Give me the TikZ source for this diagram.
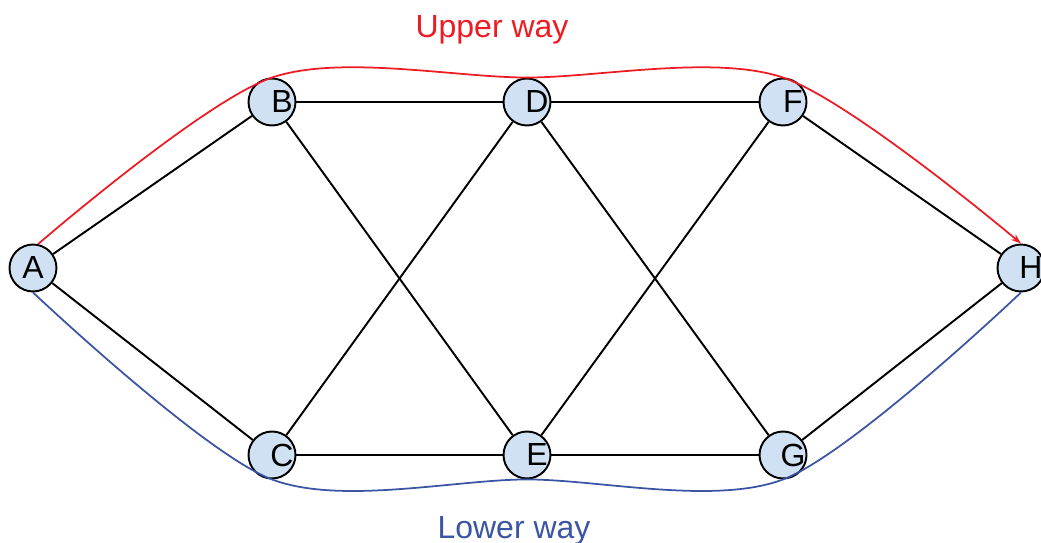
\documentclass[tikz,border=0pt]{standalone}
\usepackage{fontspec}
\setmainfont{Liberation Sans}
\definecolor{wayred}{RGB}{237,28,36}
\definecolor{wayblue}{RGB}{59,84,164}
\definecolor{nodefill}{RGB}{207,225,242}
\usetikzlibrary{arrows.meta}

\begin{document}
\begin{tikzpicture}[x=0.02cm, y=-0.02cm,
  vertex/.style={circle, draw=black, line width=1.1pt, fill=nodefill, minimum size=0.94cm, inner sep=0pt},
  tag/.style={label={[xshift=0.2cm, font=\fontsize{18.2}{22}\selectfont]center:#1}},
  edge/.style={line width=1.1pt},
  way/.style={line width=1pt}]
  \useasboundingbox (0,0) rectangle (1041,543);
  % graph nodes
  \node[vertex, label={[font=\fontsize{18.2}{22}\selectfont]center:A}] (A) at (33,268) {};
  \node[vertex, tag=B] (B) at (272,102) {};
  \node[vertex, tag=D] (D) at (527,102) {};
  \node[vertex, tag=F] (F) at (783,102) {};
  \node[vertex, tag=H] (H) at (1021,268) {};
  \node[vertex, tag=C] (C) at (272,455) {};
  \node[vertex, tag=E] (E) at (527,455) {};
  \node[vertex, tag=G] (G) at (783,455) {};
  % edges
  \draw[edge] (A) -- (B);
  \draw[edge] (A) -- (C);
  \draw[edge] (B) -- (D);
  \draw[edge] (B) -- (E);
  \draw[edge] (C) -- (D);
  \draw[edge] (C) -- (E);
  \draw[edge] (D) -- (F);
  \draw[edge] (D) -- (G);
  \draw[edge] (E) -- (F);
  \draw[edge] (E) -- (G);
  \draw[edge] (F) -- (H);
  \draw[edge] (G) -- (H);
  % the two ways
  \draw[way, wayred, -{Stealth[length=0.2cm, width=0.14cm]}] plot[smooth] coordinates {(A.78) (B.north) (D.north) (F.north) (H.north)};
  \draw[way, wayblue] plot[smooth] coordinates {(A.south) (C.south) (E.south) (G.south) (H.south)};
  \node[wayred, anchor=base, font=\fontsize{18.2}{22}\selectfont] (upper) at (492,38) {Upper way};
  \node[wayblue, anchor=base, font=\fontsize{18.2}{22}\selectfont] (lower) at (514,539) {Lower way};
\end{tikzpicture}
\end{document}
